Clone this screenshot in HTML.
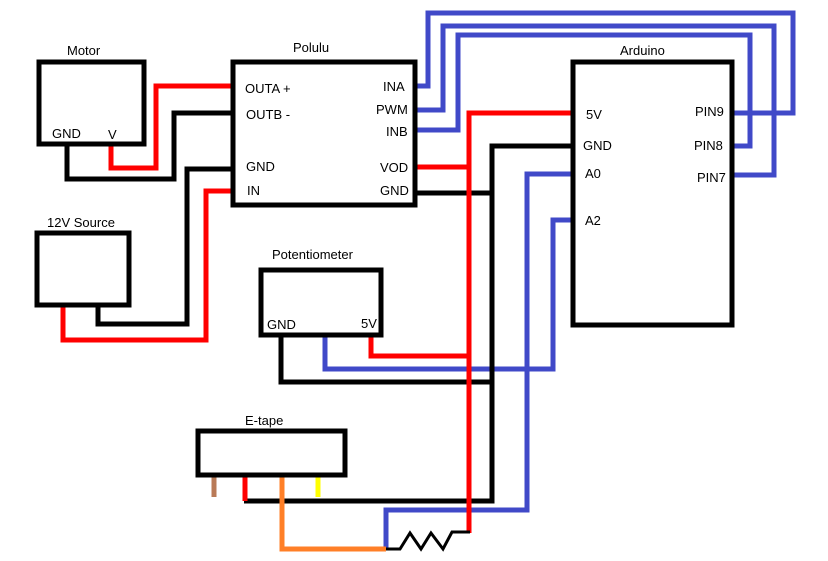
<!DOCTYPE html>
<html><head><meta charset="utf-8"><style>
html,body{margin:0;padding:0;background:#fff;width:828px;height:561px;overflow:hidden}
svg text{font-family:"Liberation Sans",sans-serif;font-size:13px;fill:#000}
</style></head><body>
<svg width="828" height="561" viewBox="0 0 828 561" xmlns="http://www.w3.org/2000/svg">
<g fill="none" stroke-width="5" stroke-linejoin="miter">
<!-- blue wires -->
<g stroke="#4049c8">
<polyline points="415,86 428,86 428,13 793,13 793,113 732,113"/>
<polyline points="415,110 443,110 443,26 774,26 774,175 732,175"/>
<polyline points="415,130 458,130 458,35 750,35 750,146 732,146"/>
<polyline points="573,174 527,174 527,510 386,510 386,549"/>
<polyline points="325,335 325,369 553,369 553,220 573,220"/>
</g>
<!-- black wires -->
<g stroke="#000">
<polyline points="67,146 67,179 174,179 174,113 233,113"/>
<polyline points="98,307 98,324 187,324 187,169 233,169"/>
<polyline points="415,193 492,193"/>
<polyline points="573,146 492,146 492,501 244,501"/>
<polyline points="281,335 281,382 492,382"/>
</g>
<!-- red wires -->
<g stroke="#f00">
<polyline points="111,146 111,168 156,168 156,86 233,86"/>
<polyline points="63,307 63,340 206,340 206,191 233,191"/>
<polyline points="415,167 469,167"/>
<polyline points="573,113 469,113 469,533"/>
<polyline points="371,335 371,356 469,356"/>
<polyline points="245,475 245,501"/>
</g>
<polyline stroke="#000" stroke-width="3" points="386,549 400,549 410,533 421,549 431,533 443,549 452,532 470,532"/>
<!-- e-tape pins -->
<line stroke="#b97a57" x1="214" y1="475" x2="214" y2="497"/>
<polyline stroke="#ff7f27" points="282,475 282,549 386,549"/>
<line stroke="#ff0" x1="318" y1="475" x2="318" y2="497"/>
<!-- boxes -->
<g stroke="#000" stroke-width="5">
<rect x="39" y="62" width="105" height="82"/>
<rect x="233" y="62" width="182" height="143"/>
<rect x="37" y="233" width="92" height="72"/>
<rect x="261" y="270" width="120" height="65"/>
<rect x="573" y="62" width="159" height="263"/>
<rect x="198" y="431" width="147" height="44"/>
</g>
</g>
<text x="67" y="55">Motor</text>
<text x="293" y="52">Polulu</text>
<text x="47" y="227" font-size="12">12V Source</text>
<text x="272" y="259">Potentiometer</text>
<text x="620" y="55">Arduino</text>
<text x="245" y="425">E-tape</text>
<text x="52" y="138">GND</text>
<text x="108" y="139">V</text>
<text x="245" y="93">OUTA +</text>
<text x="246" y="119">OUTB -</text>
<text x="246" y="171">GND</text>
<text x="247" y="195">IN</text>
<text x="383" y="91">INA</text>
<text x="376" y="114">PWM</text>
<text x="386" y="136">INB</text>
<text x="380" y="172">VOD</text>
<text x="380" y="195">GND</text>
<text x="586" y="119">5V</text>
<text x="583" y="150">GND</text>
<text x="585" y="178">A0</text>
<text x="585" y="225">A2</text>
<text x="695" y="116">PIN9</text>
<text x="694" y="150">PIN8</text>
<text x="697" y="182">PIN7</text>
<text x="267" y="329">GND</text>
<text x="361" y="328">5V</text>
</svg>
</body></html>
